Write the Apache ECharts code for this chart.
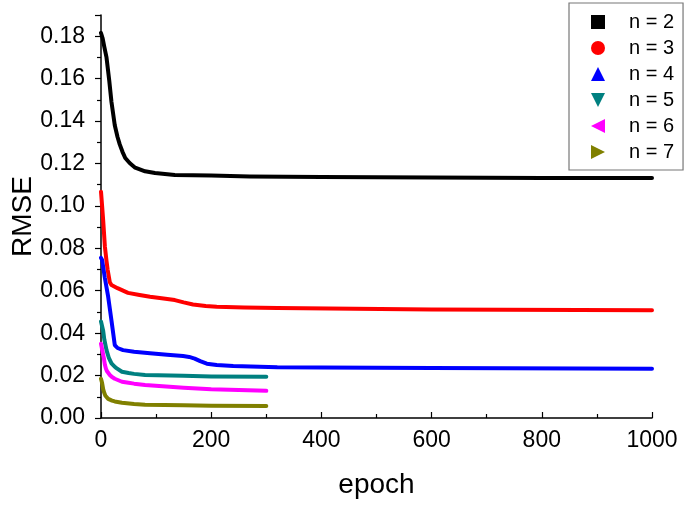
<!DOCTYPE html>
<html><head><meta charset="utf-8">
<script src="https://cdn.jsdelivr.net/npm/echarts@6/dist/echarts.min.js"></script>
<style>html,body{margin:0;padding:0;background:#fff}#c{width:685px;height:506px}</style>
</head><body><div id="c"></div>
<script>
const seriesNames = ["n = 2","n = 3","n = 4","n = 5","n = 6","n = 7"];
const colors = ["#000000","#ff0000","#0000ff","#008080","#ff00ff","#808000"];
const xTicks = [0,200,400,600,800,1000];
const yTicks = [0,0.02,0.04,0.06,0.08,0.10,0.12,0.14,0.16,0.18];

const ep2 = [0,3,6,10,15,19,25,30,34,39,44,52,62,80,98,134,200,270,400,600,800,1000];
const v2  = [0.1815,0.179,0.175,0.170,0.159,0.149,0.138,0.1325,0.129,0.1255,0.1226,0.1202,0.118,0.1163,0.1155,0.1146,0.1143,0.1139,0.1136,0.1134,0.1132,0.1131];

const ep3 = [0,2,4,7,10,12,16,19,30,49,70,89,110,134,150,167,190,210,260,320,600,1000];
const v3  = [0.1067,0.100,0.093,0.081,0.074,0.070,0.064,0.0627,0.0612,0.059,0.058,0.0572,0.0565,0.0556,0.0545,0.0535,0.0528,0.0525,0.0521,0.0519,0.0512,0.0508];

const ep4 = [0,2,7,13,19,25,30,40,60,89,120,149,160,170,180,192,210,240,320,400,600,1000];
const v4  = [0.0755,0.0745,0.066,0.0572,0.046,0.0344,0.0330,0.032,0.0312,0.0305,0.0298,0.0292,0.0288,0.0280,0.0268,0.0256,0.0250,0.0245,0.0239,0.0238,0.0236,0.0232];

const ep5 = [0,2,4,6,10,14,19,24,28,38,50,60,80,150,200,300];
const v5  = [0.0455,0.0446,0.041,0.037,0.032,0.0285,0.0258,0.0244,0.0235,0.0218,0.0212,0.0208,0.0203,0.0199,0.0196,0.0194];

const ep6 = [0,2,5,7,9,11,16,20,25,38,50,60,80,150,200,300];
const v6  = [0.035,0.0344,0.0285,0.0252,0.0232,0.022,0.0203,0.0193,0.0185,0.0171,0.0166,0.0162,0.0156,0.0143,0.0135,0.0128];

const ep7 = [0,2,4,6,8,13,20,25,38,60,80,150,200,300];
const v7  = [0.0185,0.0165,0.0135,0.0118,0.0105,0.0090,0.0082,0.0078,0.0072,0.0066,0.0063,0.0060,0.0058,0.0057];

const epochs = [ep2,ep3,ep4,ep5,ep6,ep7];
const values = [v2,v3,v4,v5,v6,v7];
const icons = [
  'rect','circle','triangle',
  'path://M0,0 L10,0 L5,10 Z',
  'path://M10,0 L10,10 L0,5 Z',
  'path://M0,0 L10,5 L0,10 Z'
];

const chart = echarts.init(document.getElementById('c'));
const font = 'Liberation Sans, Arial, sans-serif';
chart.setOption({
  animation:false,
  backgroundColor:'#fff',
  grid:{left:101,right:33,top:15,bottom:88,outerBoundsMode:'none',containLabel:false},
  legend:{
    orient:'vertical', left:569, top:3,
    padding:[9,9,8,22], itemGap:6,
    itemWidth:14, itemHeight:14,
    borderColor:'#777', borderWidth:1.2,
    textStyle:{fontFamily:font,fontSize:20,lineHeight:20,color:'#000',padding:[0,0,0,19]},
    data: seriesNames.map((n,i)=>({name:n, icon:icons[i]}))
  },
  xAxis:{
    type:'value', min:0, max:1000, interval:200,
    name:'epoch', nameLocation:'middle', nameGap:53, nameMoveOverlap:false,
    nameTextStyle:{fontFamily:font,fontSize:28,color:'#000'},
    axisLine:{show:true,onZero:false,lineStyle:{color:'#000',width:1.5}},
    axisTick:{show:true,inside:true,length:6,lineStyle:{color:'#000',width:1.2}},
    minorTick:{show:true,splitNumber:2,length:4,lineStyle:{color:'#000',width:1.2}},
    splitLine:{show:false},
    axisLabel:{fontFamily:font,fontSize:23,color:'#000',margin:11,formatter:v=>String(v)}
  },
  yAxis:{
    type:'value', min:0, max:0.19, interval:0.02,
    name:'RMSE', nameLocation:'middle', nameGap:64, nameRotate:90, nameMoveOverlap:false,
    nameTextStyle:{fontFamily:font,fontSize:28,color:'#000'},
    axisLine:{show:true,onZero:false,lineStyle:{color:'#000',width:1.5}},
    axisTick:{show:true,inside:false,length:6,lineStyle:{color:'#000',width:1.2}},
    minorTick:{show:true,splitNumber:2,length:4,lineStyle:{color:'#000',width:1.2}},
    splitLine:{show:false},
    axisLabel:{fontFamily:font,fontSize:23,color:'#000',margin:16,showMaxLabel:false,
      formatter:v=>v.toFixed(2)}
  },
  series: seriesNames.map((n,i)=>({
    name:n, type:'line', smooth:false, showSymbol:false, symbol:icons[i],
    color:colors[i],
    lineStyle:{width:4,color:colors[i],join:'round',cap:'round'},
    data: epochs[i].map((e,j)=>[e, values[i][j]])
  }))
});
</script></body></html>
